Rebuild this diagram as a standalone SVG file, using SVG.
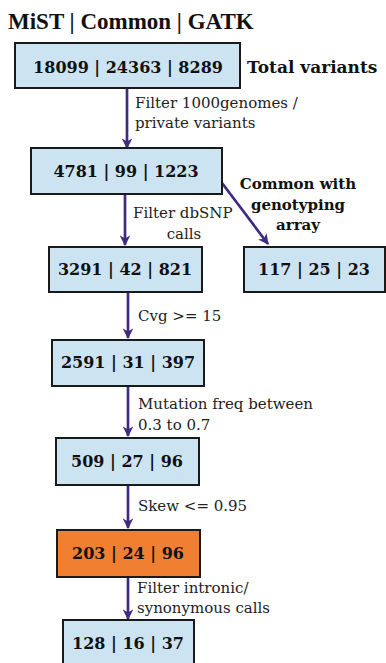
<svg xmlns="http://www.w3.org/2000/svg" width="386" height="663" viewBox="0 0 386 663">
<defs>
<style>
.box{fill:#cce4f2;stroke:#1a1a1a;stroke-width:2}
.hot{fill:#f07f32}
.num{font-family:"DejaVu Serif",serif;font-weight:bold;font-size:16px;fill:#111;text-anchor:middle}
.lab{font-family:"DejaVu Serif",serif;font-size:15px;fill:#222}
.blab{font-family:"DejaVu Serif",serif;font-weight:bold;font-size:15px;fill:#111;text-anchor:middle}
.ttl{font-family:"Liberation Serif","DejaVu Serif",serif;font-weight:bold;font-size:23px;fill:#111}
.tv{font-family:"DejaVu Serif",serif;font-weight:bold;font-size:17px;fill:#111}
.edge{stroke:#3f2c80;stroke-width:2.7;fill:none;marker-end:url(#ah)}
</style>
<marker id="ah" viewBox="0 0 10 10" refX="9" refY="5" markerWidth="4" markerHeight="4" orient="auto" markerUnits="strokeWidth">
<path d="M0,0 L10,5 L0,10 L3,5 z" fill="#3f2c80"/>
</marker>
</defs>
<text class="ttl" x="8" y="29">MiST | Common | GATK</text>
<g id="connectors">
<line class="edge" x1="127" y1="89" x2="127" y2="148"/>
<line class="edge" x1="125" y1="195" x2="125" y2="245"/>
<line class="edge" x1="222" y1="183" x2="268" y2="244"/>
<line class="edge" x1="128" y1="293" x2="128" y2="338"/>
<line class="edge" x1="128" y1="387" x2="128" y2="436"/>
<line class="edge" x1="128" y1="486" x2="128" y2="528"/>
<line class="edge" x1="128" y1="578" x2="128" y2="619"/>
<text class="lab" x="135" y="108">Filter 1000genomes /</text>
<text class="lab" x="135" y="128">private variants</text>
<text class="lab" x="133" y="218">Filter dbSNP</text>
<text class="lab" x="184" y="239" text-anchor="middle">calls</text>
<text class="blab" x="298" y="189">Common with</text>
<text class="blab" x="298" y="210">genotyping</text>
<text class="blab" x="298" y="230">array</text>
<text class="lab" x="138" y="321">Cvg &gt;= 15</text>
<text class="lab" x="138" y="409">Mutation freq between</text>
<text class="lab" x="138" y="430">0.3 to 0.7</text>
<text class="lab" x="138" y="511">Skew &lt;= 0.95</text>
<text class="lab" x="137" y="593">Filter intronic/</text>
<text class="lab" x="137" y="613">synonymous calls</text>
</g>
<g id="n1"><rect class="box" x="15" y="43" width="225" height="45"/><text class="num" x="128" y="73">18099 | 24363 | 8289</text><text class="tv" x="247" y="73">Total variants</text></g>
<g id="n2"><rect class="box" x="31" y="148" width="191" height="46"/><text class="num" x="126" y="177">4781 | 99 | 1223</text></g>
<g id="n3"><rect class="box" x="49" y="247" width="153" height="45"/><text class="num" x="125" y="275">3291 | 42 | 821</text></g>
<g id="n4"><rect class="box" x="244" y="247" width="141" height="45"/><text class="num" x="314" y="275">117 | 25 | 23</text></g>
<g id="n5"><rect class="box" x="52" y="340" width="152" height="46"/><text class="num" x="128" y="368">2591 | 31 | 397</text></g>
<g id="n6"><rect class="box" x="56" y="438" width="143" height="47"/><text class="num" x="127" y="467">509 | 27 | 96</text></g>
<g id="n7"><rect class="box hot" x="57" y="530" width="143" height="47"/><text class="num" x="128" y="559">203 | 24 | 96</text></g>
<g id="n8"><rect class="box" x="63" y="620" width="131" height="50"/><text class="num" x="128" y="649">128 | 16 | 37</text></g>
</svg>
